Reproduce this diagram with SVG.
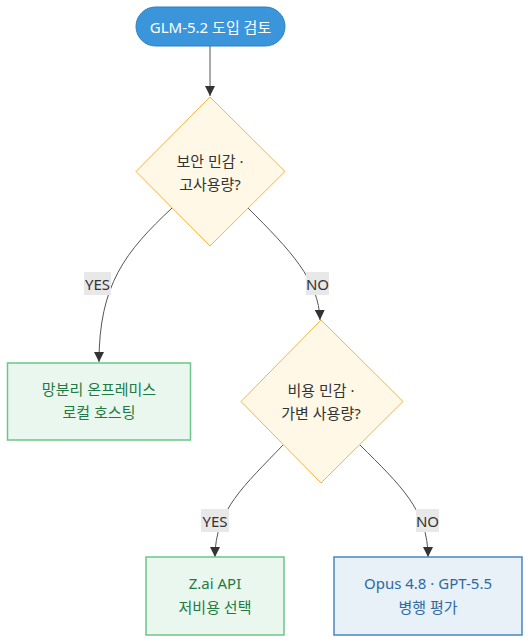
<svg xmlns="http://www.w3.org/2000/svg" width="530" height="643" viewBox="0 0 530 643">
<defs>
<marker id="arr" viewBox="0 0 10 10" refX="10" refY="5" markerWidth="10" markerHeight="10" markerUnits="userSpaceOnUse" orient="auto">
<path d="M0,0 L10,5 L0,10 z" fill="#333"/>
</marker>
<style>
text{font-family:"Noto Sans","Noto Sans CJK KR",sans-serif;font-size:15px;text-anchor:middle;dominant-baseline:central}
.dec{fill:#fff8e6;stroke:#f5b342;stroke-width:1}
.dt{fill:#333}
.green{fill:#eaf7ee;stroke:#6cc58a;stroke-width:1.5}
.gt{fill:#1f7a44}
.blue{fill:#e8f0f8;stroke:#4a86bf;stroke-width:1.5}
.bt{fill:#2d6aa1}
.edge{fill:none;stroke:#555;stroke-width:1;marker-end:url(#arr)}
.lbg{fill:#e8e8e8}
.lt{fill:#333;font-size:15px}
</style>
</defs>
<rect width="530" height="643" fill="#fff"/>
<g id="connectors">
<path class="edge" d="M210,46 L210,96"/>
<path class="edge" d="M172,208 C125,252 99,285 99,362"/>
<path class="edge" d="M248,208 C290,250 319,280 320,320"/>
<path class="edge" d="M283,445 C245,485 215,510 215,557"/>
<path class="edge" d="M360,445 C400,485 428,510 428,557"/>
<rect class="lbg" x="84" y="272" width="27" height="23"/>
<text class="lt" x="97.5" y="283.5">YES</text>
<rect class="lbg" x="306" y="272" width="23" height="23"/>
<text class="lt" x="317.5" y="283.5">NO</text>
<rect class="lbg" x="201" y="509" width="28" height="23"/>
<text class="lt" x="215" y="520.5">YES</text>
<rect class="lbg" x="416" y="509" width="23" height="23"/>
<text class="lt" x="427.5" y="520.5">NO</text>
</g>
<g id="start">
<rect x="136" y="7" width="149" height="39" rx="19.5" fill="#3a95db" stroke="#2f7fc0" stroke-width="1"/>
<text x="210.5" y="26.5" fill="#fff">GLM-5.2 도입 검토</text>
</g>
<g id="q1">
<polygon class="dec" points="210,97 285,171.5 210,246 136,171.5"/>
<text class="dt" x="210" y="161">보안 민감 ·</text>
<text class="dt" x="210" y="184">고사용량?</text>
</g>
<g id="onprem">
<rect class="green" x="7.5" y="363" width="183" height="77"/>
<text class="gt" x="99" y="389">망분리 온프레미스</text>
<text class="gt" x="99" y="412">로컬 호스팅</text>
</g>
<g id="q2">
<polygon class="dec" points="321,320 403,401.5 321,483 241,401.5"/>
<text class="dt" x="321" y="390">비용 민감 ·</text>
<text class="dt" x="321" y="413">가변 사용량?</text>
</g>
<g id="zai">
<rect class="green" x="146" y="557" width="138" height="78"/>
<text class="gt" x="215" y="583">Z.ai API</text>
<text class="gt" x="215" y="607">저비용 선택</text>
</g>
<g id="parallel">
<rect class="blue" x="334" y="557" width="188" height="78"/>
<text class="bt" x="428" y="583">Opus 4.8 · GPT-5.5</text>
<text class="bt" x="428" y="607">병행 평가</text>
</g>
</svg>
